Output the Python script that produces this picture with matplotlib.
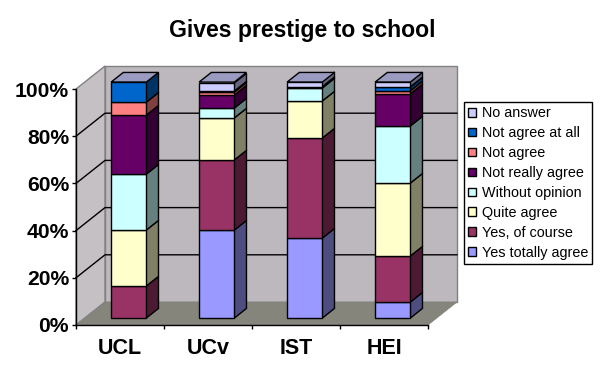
import numpy as np
import matplotlib
matplotlib.use('Agg')
import matplotlib.pyplot as plt
from matplotlib.patches import Polygon, Patch

schools = ['UCL', 'UCv', 'IST', 'HEI']
yes_totally = [0, 37.3, 33.9, 6.8]
yes_course = [13.6, 29.7, 42.4, 19.5]
quite_agree = [23.7, 17.8, 15.7, 30.9]
without_opinion = [23.7, 4.2, 5.5, 24.2]
not_really = [25.0, 5.5, 0, 13.6]
not_agree = [5.5, 1.3, 0.6, 1.3]
not_at_all = [8.5, 0.4, 0, 1.7]
no_answer = [0, 3.4, 2.1, 2.1]

labels = ['Yes totally agree', 'Yes, of course', 'Quite agree', 'Without opinion',
          'Not really agree', 'Not agree', 'Not agree at all', 'No answer']
series = [yes_totally, yes_course, quite_agree, without_opinion,
          not_really, not_agree, not_at_all, no_answer]
colors = ['#9999FF', '#993366', '#FFFFCC', '#CCFFFF',
          '#660066', '#FF8080', '#0066CC', '#CCCCFF']

plt.rcParams['font.family'] = ['Liberation Sans', 'DejaVu Sans']

W, H = 605, 376
fig = plt.figure(figsize=(W / 100, H / 100), dpi=100)
# front plane of the fake 3d box, in pixels
ax = fig.add_axes([76 / W, 1 - 325 / H, 352 / W, 236 / H])
ax.set_xlim(0, 4)
ax.set_ylim(0, 100)

# how far the box goes back, in data units
DX = 29 / 88
DY = 23 / 2.36
BAR_W = 0.4
BAR_D0 = 0.3   # depth where the bar starts
BAR_D1 = 0.72  # depth where the bar ends


def proj(x, y, d):
    return (x + d * DX, y + d * DY)


def shade(c, k):
    r, g, b = matplotlib.colors.to_rgb(c)
    return (r * k, g * k, b * k)


def poly(pts, fc, ec='black', lw=1.0, z=1):
    ax.add_patch(Polygon(pts, closed=True, facecolor=fc, edgecolor=ec, linewidth=lw,
                         zorder=z, clip_on=False, joinstyle='miter'))


# walls and floor
wall = '#BDB8BD'
poly([proj(0, 0, 1), proj(4, 0, 1), proj(4, 100, 1), proj(0, 100, 1)], wall, '#808080', 1.0, 1)
poly([proj(0, 0, 0), proj(0, 0, 1), proj(0, 100, 1), proj(0, 100, 0)], '#C4C0C4', '#808080', 1.0, 1)
poly([proj(0, 0, 0), proj(4, 0, 0), proj(4, 0, 1), proj(0, 0, 1)], '#85857C', '#808080', 0.5, 1)

# gridlines
for v in [20, 40, 60, 80]:
    ax.plot(*zip(proj(0, v, 0), proj(0, v, 1), proj(4, v, 1)), color='black', lw=1.0,
            zorder=2, clip_on=False)

# stacked bars
for i in range(len(schools)):
    x0 = i + 0.5 - BAR_W / 2
    x1 = x0 + BAR_W
    bottom = 0
    for vals, c in zip(series, colors):
        v = vals[i]
        if v == 0:
            continue
        top = bottom + v
        poly([proj(x0, bottom, BAR_D0), proj(x1, bottom, BAR_D0),
              proj(x1, top, BAR_D0), proj(x0, top, BAR_D0)], c, z=4)
        poly([proj(x1, bottom, BAR_D0), proj(x1, bottom, BAR_D1),
              proj(x1, top, BAR_D1), proj(x1, top, BAR_D0)], shade(c, 0.5), z=3)
        bottom = top
    poly([proj(x0, 100, BAR_D0), proj(x1, 100, BAR_D0),
          proj(x1, 100, BAR_D1), proj(x0, 100, BAR_D1)], shade(colors[-1], 0.76), z=3)

# axes
for s in ['top', 'right']:
    ax.spines[s].set_visible(False)
for s in ['left', 'bottom']:
    ax.spines[s].set_linewidth(1.0)
    ax.spines[s].set_zorder(6)
ax.patch.set_visible(False)
ax.set_xticks(range(5))
ax.set_xticklabels([])
ax.set_xticks(np.arange(len(schools)) + 0.5, schools, minor=True, fontsize=15.5, fontweight='bold')
ax.tick_params(axis='x', which='minor', length=0, pad=9.5)
ax.tick_params(axis='x', which='major', length=3, width=1)
ax.set_yticks([0, 20, 40, 60, 80, 100])
ax.set_yticklabels(['0%', '20%', '40%', '60%', '80%', '100%'], fontsize=15.2, fontweight='bold')
ax.tick_params(axis='y', length=3, width=1, pad=2)

fig.text(302 / W, 1 - 30 / H, 'Gives prestige to school', fontsize=16.6, fontweight='bold',
         ha='center', va='center')

handles = [Patch(facecolor=c, edgecolor='black', linewidth=1) for c in colors][::-1]
leg = fig.legend(handles, labels[::-1], loc='upper left',
                 bbox_to_anchor=(464 / W, 1 - 102 / H), bbox_transform=fig.transFigure,
                 fontsize=10.4, fancybox=False, framealpha=1, edgecolor='black',
                 handlelength=0.55, handleheight=0.55, handletextpad=0.38,
                 labelspacing=0.41, borderpad=0.3, borderaxespad=0)
leg.get_frame().set_linewidth(1)

fig.savefig('out.png', dpi=100)
